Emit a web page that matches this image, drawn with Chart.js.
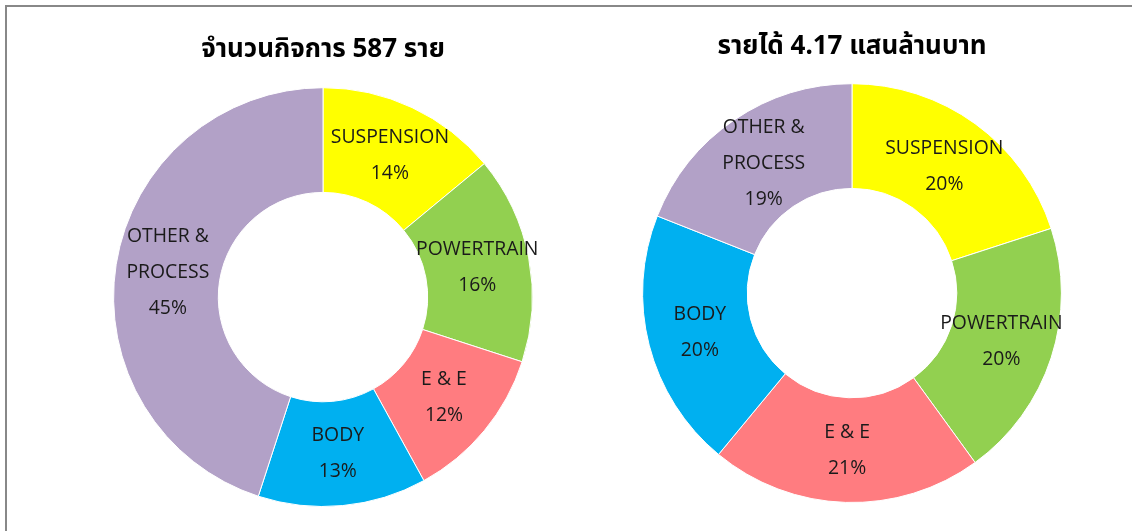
<!DOCTYPE html>
<html>
<head>
<meta charset="utf-8">
<script src="https://cdn.jsdelivr.net/npm/chart.js@4.4.1/dist/chart.umd.min.js"></script>
<style>
  html, body { margin: 0; padding: 0; background: #fff; overflow: hidden; }
  body { width: 1132px; height: 531px; position: relative; }
  #frame { position: absolute; left: 5px; top: 5px; width: 1200px; height: 600px;
           border-left: 2px solid #888; border-top: 2px solid #888; }
  .box { position: absolute; }
  #boxLeft { left: 93px; top: 27px; width: 460px; height: 480px; }
  #boxRight { left: 622px; top: 24px; width: 460px; height: 479px; }
</style>
</head>
<body>
<div id="frame"></div>
<div class="box" id="boxLeft"><canvas id="graficoEmpresas"></canvas></div>
<div class="box" id="boxRight"><canvas id="graficoIngresos"></canvas></div>
<script>
let categorias = ["SUSPENSION", "POWERTRAIN", "E & E", "BODY", "OTHER & PROCESS"];
let etiquetas = [["SUSPENSION"], ["POWERTRAIN"], ["E & E"], ["BODY"], ["OTHER &", "PROCESS"]];
let empresas = [14, 16, 12, 13, 45];   // % de 587 empresas
let ingresos = [20, 20, 21, 20, 19];   // % de 4.17 แสนล้านบาท
let colores = ['#FFFF00', '#92D050', '#FF7C80', '#00B0F0', '#B2A1C7'];

// dibuja nombre + porcentaje en el centro de cada segmento
let etiquetasPlugin = {
  id: 'etiquetasSegmento',
  afterDatasetsDraw(chart) {
    let ctx = chart.ctx;
    let meta = chart.getDatasetMeta(0);
    let valores = chart.data.datasets[0].data;
    let total = valores.reduce((a, b) => a + b, 0);
    ctx.save();
    ctx.fillStyle = '#1a1a1a';
    ctx.font = '20px "Open Sans", "Noto Sans", sans-serif';
    ctx.textAlign = 'center';
    ctx.textBaseline = 'middle';
    meta.data.forEach((arco, i) => {
      let p = arco.tooltipPosition();
      let lineas = etiquetas[i].concat([Math.round(valores[i] / total * 100) + '%']);
      let alto = 36;
      let y0 = p.y - (lineas.length - 1) * alto / 2;
      lineas.forEach((t, j) => {
        ctx.save();
        ctx.translate(p.x, y0 + j * alto);
        ctx.scale(0.97, 1);
        ctx.fillText(t, 0, 0);
        ctx.restore();
      });
    });
    ctx.restore();
  }
};

function opciones(titulo, abajo) {
  return {
    responsive: true,
    maintainAspectRatio: false,
    animation: false,
    cutout: '50%',
    layout: { padding: { left: 20, right: 20 } },
    plugins: {
      legend: { display: false },
      tooltip: { enabled: false },
      title: {
        display: true,
        text: titulo,
        color: '#000',
        font: { size: 26, weight: 'bold', family: '"Noto Sans", "Noto Sans Thai", Tahoma, sans-serif' },
        padding: { top: 7, bottom: abajo },
      },
    },
  };
}

new Chart(document.getElementById("graficoEmpresas").getContext("2d"), {
  type: "doughnut",
  data: {
    labels: categorias,
    datasets: [{ data: empresas, backgroundColor: colores, borderColor: '#fff', borderWidth: 1 }],
  },
  options: opciones("จำนวนกิจการ 587 ราย", 22),
  plugins: [etiquetasPlugin],
});

new Chart(document.getElementById("graficoIngresos").getContext("2d"), {
  type: "doughnut",
  data: {
    labels: categorias,
    datasets: [{ data: ingresos, backgroundColor: colores, borderColor: '#fff', borderWidth: 1 }],
  },
  options: opciones("รายได้ 4.17 แสนล้านบาท", 21),
  plugins: [etiquetasPlugin],
});
</script>
</body>
</html>
